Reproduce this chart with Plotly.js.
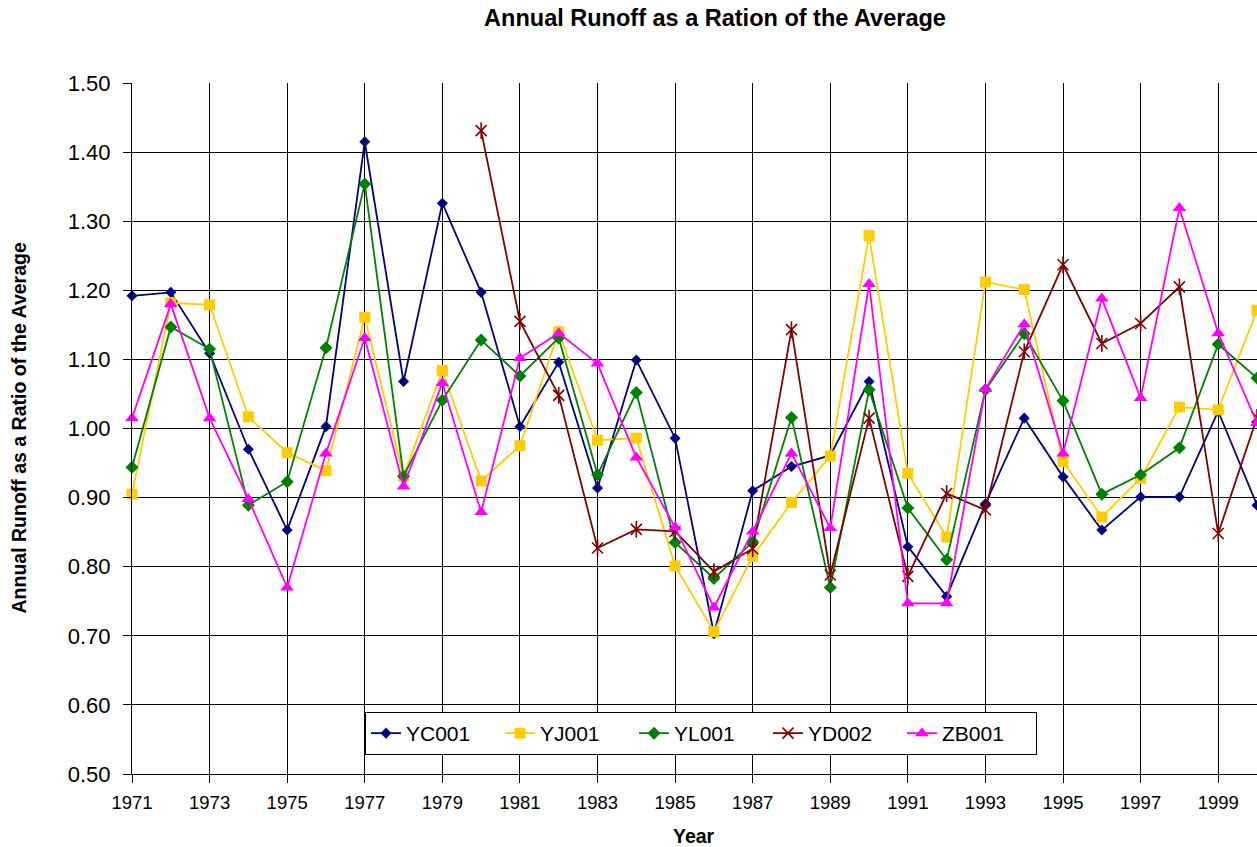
<!DOCTYPE html>
<html>
<head>
<meta charset="utf-8">
<script src="https://cdn.plot.ly/plotly-3.0.1.min.js"></script>
<style>html,body{margin:0;padding:0;background:#fff;}#chart{width:1257px;height:847px;}</style>
</head>
<body>
<div id="chart"></div>
<script>
const years = [1971,1972,1973,1974,1975,1976,1977,1978,1979,1980,1981,1982,1983,1984,1985,1986,1987,1988,1989,1990,1991,1992,1993,1994,1995,1996,1997,1998,1999,2000];
const yearsYD = [1980,1981,1982,1983,1984,1985,1986,1987,1988,1989,1990,1991,1992,1993,1994,1995,1996,1997,1998,1999,2000];

const YC001 = [1.192,1.197,1.109,0.970,0.853,1.003,1.415,1.068,1.326,1.197,1.003,1.096,0.914,1.099,0.986,0.703,0.910,0.945,0.961,1.068,0.829,0.757,0.891,1.015,0.930,0.853,0.901,0.901,1.025,0.889];
const YJ001 = [0.905,1.182,1.179,1.017,0.965,0.939,1.161,0.931,1.084,0.924,0.975,1.140,0.983,0.986,0.801,0.706,0.815,0.893,0.960,1.279,0.935,0.843,1.212,1.201,0.952,0.872,0.928,1.031,1.027,1.171];
const YL001 = [0.944,1.147,1.115,0.889,0.923,1.117,1.354,0.931,1.041,1.128,1.076,1.131,0.933,1.052,0.835,0.783,0.836,1.016,0.770,1.056,0.885,0.810,1.056,1.137,1.040,0.905,0.933,0.972,1.122,1.073];
const YD002 = [1.431,1.155,1.048,0.827,0.854,0.851,0.793,0.826,1.143,0.788,1.015,0.786,0.906,0.882,1.111,1.237,1.123,1.152,1.205,0.848,1.016];
const ZB001 = [1.015,1.180,1.015,0.898,0.770,0.964,1.131,0.916,1.066,0.879,1.102,1.138,1.094,0.958,0.857,0.741,0.851,0.964,0.856,1.209,0.747,0.747,1.057,1.151,0.964,1.188,1.044,1.319,1.138,1.008];

const seriesNames = ["YC001","YJ001","YL001","YD002","ZB001"];
const colors = ["#000080","#FFCC00","#008000","#800000","#FF00FF"];

const FONT = "Arial, 'Liberation Sans', sans-serif";

function tr(name, x, y, color, symbol, size, extra) {
  return Object.assign({
    type: "scatter", mode: "lines+markers", name: name, x: x, y: y,
    line: {color: color, width: 1.8},
    marker: {symbol: symbol, size: size, color: color, line: {color: color, width: 1.6}},
    cliponaxis: false
  }, extra || {});
}

const traces = [
  tr(seriesNames[0], years, YC001, colors[0], "diamond", 8.5, {marker: {symbol: "diamond", size: 8.5, color: colors[0], line: {width: 0}}}),
  tr(seriesNames[1], years, YJ001, colors[1], "square", 11, {marker: {symbol: "square", size: 11, color: colors[1], line: {width: 0}}}),
  tr(seriesNames[2], years, YL001, colors[2], "diamond", 10, {marker: {symbol: "diamond", size: 10, color: colors[2], line: {width: 0}}}),
  tr(seriesNames[3], yearsYD, YD002, colors[3], "x-thin-open", 11),
  tr(seriesNames[3], yearsYD, YD002, colors[3], "line-ns-open", 12, {mode: "markers", showlegend: false, hoverinfo: "skip"}),
  tr(seriesNames[4], years, ZB001, colors[4], "triangle-up", 12, {marker: {symbol: "triangle-up", size: 12, color: colors[4], line: {width: 0}}})
];

const L = 132, R = 1257, T = 83, B = 774;
const pw = R - L, ph = B - T;

const layout = {
  width: 1257, height: 847,
  margin: {l: L, r: 1257 - R, t: T, b: 847 - B, pad: 0},
  paper_bgcolor: "#ffffff", plot_bgcolor: "#ffffff",
  font: {family: FONT, color: "#000000"},
  showlegend: true,
  title: {text: "<b>Annual Runoff as a Ration of the Average</b>", font: {family: FONT, size: 23.5, color: "#000"},
          x: 715 / 1257, xanchor: "center", xref: "container", y: 1 - 18 / 847, yanchor: "middle", yref: "container"},
  xaxis: {
    range: [1971, 2000], tickmode: "linear", tick0: 1971, dtick: 2,
    showgrid: true, gridcolor: "#000000", gridwidth: 1,
    zeroline: false, showline: true, linecolor: "#000000", linewidth: 1,
    ticks: "outside", ticklen: 8, tickcolor: "#000", tickwidth: 1,
    ticklabelstandoff: 4,
    tickfont: {family: FONT, size: 18.5, color: "#000"},
    fixedrange: true
  },
  yaxis: {
    range: [0.5, 1.5], tickmode: "linear", tick0: 0.5, dtick: 0.1, tickformat: ".2f",
    showgrid: true, gridcolor: "#000000", gridwidth: 1,
    zeroline: false, showline: true, linecolor: "#000000", linewidth: 1,
    ticks: "outside", ticklen: 8, tickcolor: "#000", tickwidth: 1,
    ticklabelstandoff: 8,
    tickfont: {family: FONT, size: 22, color: "#000"},
    fixedrange: true
  },
  legend: {
    orientation: "h", x: (365 - L) / pw, xanchor: "left", y: (B - 712) / ph, yanchor: "top",
    bgcolor: "#ffffff", bordercolor: "#000000", borderwidth: 1,
    font: {family: FONT, size: 21, color: "#000"},
    itemwidth: 30, tracegroupgap: 0, entrywidth: 89, entrywidthmode: "pixels"
  },
  annotations: [
    {text: "<b>Annual Runoff as a Ratio of the Average</b>", textangle: -90, showarrow: false,
     xref: "paper", yref: "paper", x: -(L - 18) / pw, y: 0.5, xanchor: "center", yanchor: "middle",
     font: {family: FONT, size: 19.5, color: "#000"}},
    {text: "<b>Year</b>", showarrow: false, xref: "paper", yref: "paper",
     x: (694 - L) / pw, y: -(836 - B) / ph, xanchor: "center", yanchor: "middle",
     font: {family: FONT, size: 19.5, color: "#000"}}
  ]
};

Plotly.newPlot("chart", traces, layout, {displayModeBar: false, staticPlot: true});
</script>
</body>
</html>
